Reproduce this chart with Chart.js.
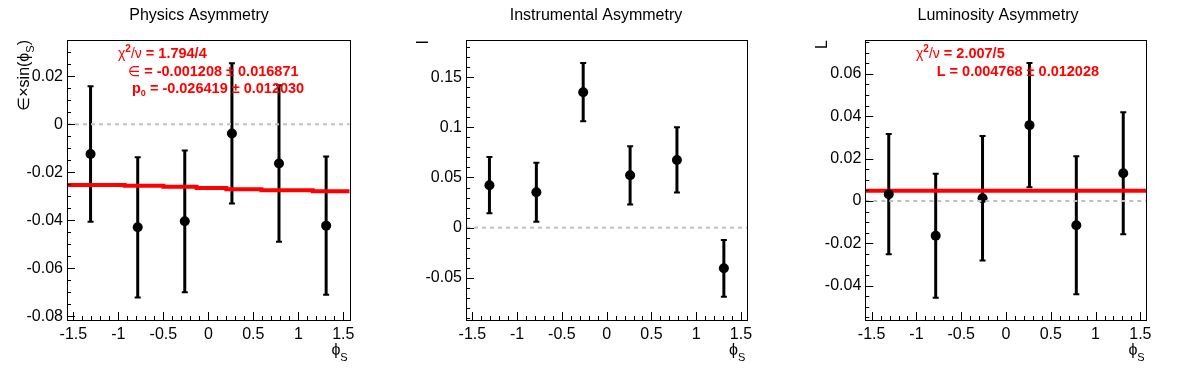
<!DOCTYPE html>
<html lang="en">
<head>
    <meta charset="UTF-8">
    <title>Asymmetries vs phi_S</title>
    <script src="https://cdn.jsdelivr.net/npm/chart.js"></script>
    <style>
        body { margin: 0; background: white; }
        .wrap { position: relative; width: 1196px; height: 372px; overflow: hidden; }
        canvas { position: absolute; top: 0; }
    </style>
</head>
<body>
    <div class="wrap">
        <canvas id="c1" width="398" height="372" style="left:0px"></canvas>
        <canvas id="c2" width="398" height="372" style="left:397px"></canvas>
        <canvas id="c3" width="396" height="372" style="left:800px"></canvas>
    </div>

    <script>
        // bin centres in phi_S
        const phiBins = [-1.309, -0.785, -0.262, 0.262, 0.785, 1.309];
        const xTicks = [-1.5, -1, -0.5, 0, 0.5, 1, 1.5];

        // physics asymmetry
        const physVal = [-0.0124, -0.0429, -0.0404, -0.0038, -0.0163, -0.0422];
        const physErr = [0.0282, 0.0292, 0.0295, 0.0292, 0.0326, 0.0288];
        const physFitX = [-1.5708, -0.93, -0.50, -0.13, 0.20, 0.59, 1.16, 1.5708];
        const physFitY = [-0.0253, -0.0256, -0.0260, -0.0265, -0.0271, -0.0275, -0.0279, -0.0279];
        const physTicks = [-0.08, -0.06, -0.04, -0.02, 0, 0.02];

        // instrumental asymmetry
        const instVal = [0.0423, 0.0353, 0.1350, 0.0522, 0.0675, -0.0405];
        const instErr = [0.0280, 0.0295, 0.0290, 0.0290, 0.0325, 0.0283];
        const instTicks = [-0.05, 0, 0.05, 0.1, 0.15];

        // luminosity asymmetry
        const lumiVal = [0.0032, -0.0164, 0.0013, 0.0358, -0.0115, 0.0131];
        const lumiErr = [0.0284, 0.0293, 0.0294, 0.0293, 0.0326, 0.0288];
        const lumiFitX = [-1.5708, 1.5708];
        const lumiFitY = [0.004768, 0.004768];
        const lumiTicks = [-0.04, -0.02, 0, 0.02, 0.04, 0.06];

        const FONT = '"Liberation Sans", Arial, "DejaVu Sans", sans-serif';
        const HALF_PI = Math.PI / 2;

        // draw a line of text made of pieces with their own font / vertical shift
        function drawRich(ctx, parts, x, y, color) {
            ctx.fillStyle = color;
            ctx.textBaseline = 'alphabetic';
            ctx.textAlign = 'left';
            let cx = x;
            parts.forEach(p => {
                ctx.font = p[1] + ' ' + FONT;
                ctx.fillText(p[0], cx, y + (p[2] || 0));
                cx += ctx.measureText(p[0]).width;
            });
            return cx - x;
        }
        function richWidth(ctx, parts) {
            let w = 0;
            parts.forEach(p => { ctx.font = p[1] + ' ' + FONT; w += ctx.measureText(p[0]).width; });
            return w;
        }

        const rootLook = {
            id: 'rootLook',
            beforeDatasetsDraw(chart) {
                const cfg = chart.options.plugins.rootLook;
                const ctx = chart.ctx, xs = chart.scales.x, ys = chart.scales.y;
                ctx.save();
                ctx.strokeStyle = '#000';
                cfg.vals.forEach((v, i) => {
                    const px = xs.getPixelForValue(phiBins[i]);
                    const top = ys.getPixelForValue(v + cfg.errs[i]);
                    const bot = ys.getPixelForValue(v - cfg.errs[i]);
                    ctx.lineWidth = 3;
                    ctx.beginPath();
                    ctx.moveTo(px, top); ctx.lineTo(px, bot);
                    ctx.stroke();
                    ctx.lineWidth = 2;
                    ctx.beginPath();
                    ctx.moveTo(px - 3, top); ctx.lineTo(px + 3, top);
                    ctx.moveTo(px - 3, bot); ctx.lineTo(px + 3, bot);
                    ctx.stroke();
                });
                ctx.restore();
            },
            afterDraw(chart) {
                const cfg = chart.options.plugins.rootLook;
                const ctx = chart.ctx, a = chart.chartArea;
                const xs = chart.scales.x, ys = chart.scales.y;
                ctx.save();
                // frame
                ctx.strokeStyle = '#000';
                ctx.lineWidth = 1;
                ctx.strokeRect(Math.round(a.left) + 0.5, Math.round(a.top) + 0.5,
                    Math.round(a.right - a.left), Math.round(a.bottom - a.top));
                // inward ticks on x
                ctx.beginPath();
                for (let k = -15; k <= 15; k++) {
                    const v = k / 10;
                    const px = Math.round(xs.getPixelForValue(v)) + 0.5;
                    const len = (k % 5 === 0) ? 8 : 4;
                    ctx.moveTo(px, a.bottom); ctx.lineTo(px, a.bottom - len);
                }
                // inward ticks on y
                const n0 = Math.ceil(ys.min / cfg.minor), n1 = Math.floor(ys.max / cfg.minor);
                const per = Math.round(cfg.major / cfg.minor);
                for (let k = n0; k <= n1; k++) {
                    const py = Math.round(ys.getPixelForValue(k * cfg.minor)) + 0.5;
                    const len = (k % per === 0) ? 8 : 4;
                    ctx.moveTo(a.left, py); ctx.lineTo(a.left + len, py);
                }
                ctx.stroke();

                // title
                ctx.fillStyle = '#000';
                ctx.font = '16px ' + FONT;
                ctx.textAlign = 'center';
                ctx.textBaseline = 'alphabetic';
                ctx.fillText(cfg.title, chart.width / 2, 20);

                // x axis title
                const xt = [['\u03d5', '16px'], ['S', '11px', 6]];
                const xw = richWidth(ctx, xt);
                drawRich(ctx, xt, a.right - 2 - xw, 355, '#000');

                // y axis title, rotated, right end at top of frame
                ctx.save();
                ctx.translate(a.left - 38, a.top);
                ctx.rotate(-HALF_PI);
                const yw = richWidth(ctx, cfg.yTitle);
                drawRich(ctx, cfg.yTitle, -yw, 0, '#000');
                ctx.restore();

                // fit statistics
                cfg.stats.forEach(s => drawRich(ctx, s.parts, s.x, s.y, '#ff0000'));
                ctx.restore();
            }
        };

        function makeChart(id, vals, errs, ticks, yMin, yMax, minor, major, left, right, fitX, fitY, title, yTitle, stats) {
            const canvas = document.getElementById(id);
            const W = canvas.width;
            const datasets = [{
                data: [{ x: -HALF_PI, y: 0 }, { x: HALF_PI, y: 0 }],
                showLine: true,
                borderColor: '#c0c0c0',
                borderWidth: 2,
                borderDash: [4, 4],
                pointRadius: 0
            }, {
                data: phiBins.map((x, i) => ({ x: x, y: vals[i] })),
                showLine: false,
                pointRadius: 5,
                pointBackgroundColor: '#000',
                pointBorderColor: '#000',
                borderWidth: 0
            }];
            if (fitX) {
                datasets.push({
                    data: fitX.map((x, i) => ({ x: x, y: fitY[i] })),
                    showLine: true,
                    stepped: true,
                    borderColor: '#ff0000',
                    borderWidth: 4,
                    pointRadius: 0
                });
            }
            new Chart(canvas.getContext('2d'), {
                type: 'scatter',
                data: { datasets: datasets },
                options: {
                    responsive: false,
                    animation: false,
                    devicePixelRatio: 1,
                    layout: { padding: { left: 0, top: 40, right: W - right, bottom: 0 } },
                    plugins: {
                        legend: { display: false },
                        title: { display: false },
                        tooltip: { enabled: false },
                        rootLook: { vals: vals, errs: errs, minor: minor, major: major, title: title, yTitle: yTitle, stats: stats }
                    },
                    scales: {
                        x: {
                            type: 'linear',
                            min: -HALF_PI,
                            max: HALF_PI,
                            afterBuildTicks: s => { s.ticks = xTicks.map(v => ({ value: v })); },
                            afterFit: s => { s.height = 52; },
                            grid: { display: false, drawTicks: false },
                            border: { display: false },
                            ticks: { color: '#000', font: { family: FONT, size: 16 }, padding: 5, maxRotation: 0, autoSkip: false, callback: v => String(v) }
                        },
                        y: {
                            type: 'linear',
                            min: yMin,
                            max: yMax,
                            afterBuildTicks: s => { s.ticks = ticks.map(v => ({ value: v })); },
                            afterFit: s => { s.width = left; },
                            grid: { display: false, drawTicks: false },
                            border: { display: false },
                            ticks: { color: '#000', font: { family: FONT, size: 16 }, padding: 4, autoSkip: false, callback: v => String(v) }
                        }
                    }
                },
                plugins: [rootLook]
            });
        }

        makeChart('c1', physVal, physErr, physTicks, -0.0815, 0.0351, 0.005, 0.02, 67, 349.7,
            physFitX, physFitY, 'Physics Asymmetry',
            [['\u2208\u00d7sin(\u03d5', '16px'], ['S', '11px', 5], [')', '16px']],
            [
                { x: 118, y: 58, parts: [['\u03c7', '14px'], ['2', 'bold 10px', -6], ['/', '14px'], ['\u03bd', '14px'], [' = 1.794/4', 'bold 14.5px']] },
                { x: 128, y: 76, parts: [['\u2208', '14px'], [' = -0.001208 \u00b1 0.016871', 'bold 14.5px']] },
                { x: 132, y: 93, parts: [['p', 'bold 14.5px'], ['0', 'bold 9px', 3], [' = -0.026419 \u00b1 0.012030', 'bold 14.5px']] }
            ]);

        makeChart('c2', instVal, instErr, instTicks, -0.092, 0.187, 0.01, 0.05, 69, 350.3,
            null, null, 'Instrumental Asymmetry',
            [['I', '16px']],
            []);

        makeChart('c3', lumiVal, lumiErr, lumiTicks, -0.0562, 0.0760, 0.005, 0.02, 65.3, 346.7,
            lumiFitX, lumiFitY, 'Luminosity Asymmetry',
            [['L', '16px']],
            [
                { x: 116, y: 58, parts: [['\u03c7', '14px'], ['2', 'bold 10px', -6], ['/', '14px'], ['\u03bd', '14px'], [' = 2.007/5', 'bold 14.5px']] },
                { x: 136.7, y: 76, parts: [['L = 0.004768 \u00b1 0.012028', 'bold 14.5px']] }
            ]);
    </script>
</body>
</html>
